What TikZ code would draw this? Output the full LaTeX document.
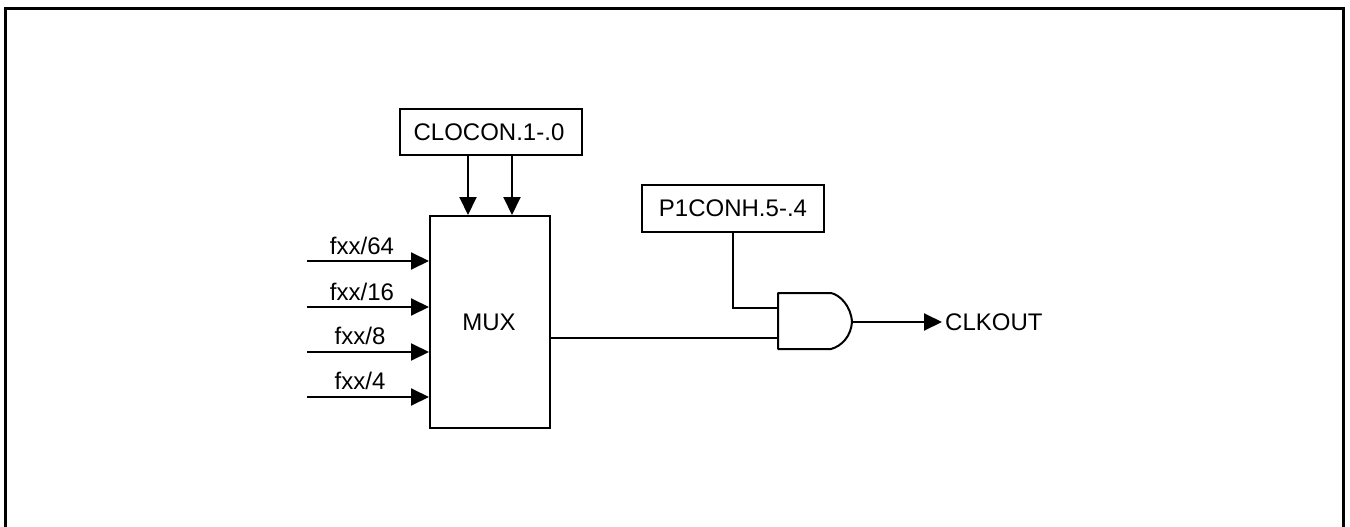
\documentclass[tikz,border=0pt]{standalone}
\usepackage{fontspec}
\setmainfont{Liberation Sans}
\usetikzlibrary{arrows.meta}
\tikzset{
  px/.style={x=1pt,y=-1pt},
  wire/.style={line width=2pt,draw=black},
  sig/.style={wire,-{Triangle[length=18pt,width=17pt]}},
  box/.style={draw=black,line width=2pt,inner sep=0pt,fill=white},
  lab/.style={font=\fontsize{24pt}{26pt}\selectfont,inner sep=0pt,anchor=base},
}
\begin{document}
\begin{tikzpicture}[px]
\useasboundingbox (0,0) rectangle (1350,527);
% frame
\draw[line width=3pt,line cap=butt] (5.5,527) -- (5.5,8.5) -- (1343.5,8.5) -- (1343.5,527);
% boxes
\node[box,minimum width=120pt,minimum height=212pt] (mux) at (490,322) {};
\node[box,minimum width=182pt,minimum height=46pt] (clocon) at (491,132) {};
\node[box,minimum width=182pt,minimum height=47pt] (p1conh) at (733,208.5) {};
\node[lab] (muxlab) at (489,330) {MUX};
\node[lab] (cloconlab) at (489,140) {CLOCON.1-.0};
\node[lab] (p1lab) at (733,216) {P1CONH.5-.4};
% inputs
\coordinate (i1) at (307,261); \coordinate (i2) at (307,307);
\coordinate (i3) at (307,352); \coordinate (i4) at (307,397);
\node[lab] (l1) at (362,254) {fxx/64};
\node[lab] (l2) at (362,300) {fxx/16};
\node[lab] (l3) at (360,344) {fxx/8};
\node[lab] (l4) at (360,389) {fxx/4};
\draw[sig] (i1) -- (i1 -| mux.west);
\draw[sig] (i2) -- (i2 -| mux.west);
\draw[sig] (i3) -- (i3 -| mux.west);
\draw[sig] (i4) -- (i4 -| mux.west);
% control
\coordinate (c1) at (468,155); \coordinate (c2) at (512,155);
\draw[sig] (c1) -- (c1 |- mux.north);
\draw[sig] (c2) -- (c2 |- mux.north);
% gate
\coordinate (g1) at (778,307.5); \coordinate (g2) at (778,337.5);
\coordinate (gout) at (852,322);
\draw[wire,line join=round] (778,293) -- (831,293)
  .. controls (840,295) and (851,306) .. (gout)
  .. controls (851,336) and (842,346) .. (831,349)
  -- (778,349) -- cycle;
\draw[wire] (p1conh.south) -- (p1conh.south |- g1) -- (g1);
\draw[wire] (mux.east |- g2) -- (g2);
% output
\node[lab,anchor=base west] (clk) at (945,330) {CLKOUT};
\coordinate (clkin) at (942,322);
\draw[sig] (gout) -- (clkin);
\end{tikzpicture}
\end{document}
